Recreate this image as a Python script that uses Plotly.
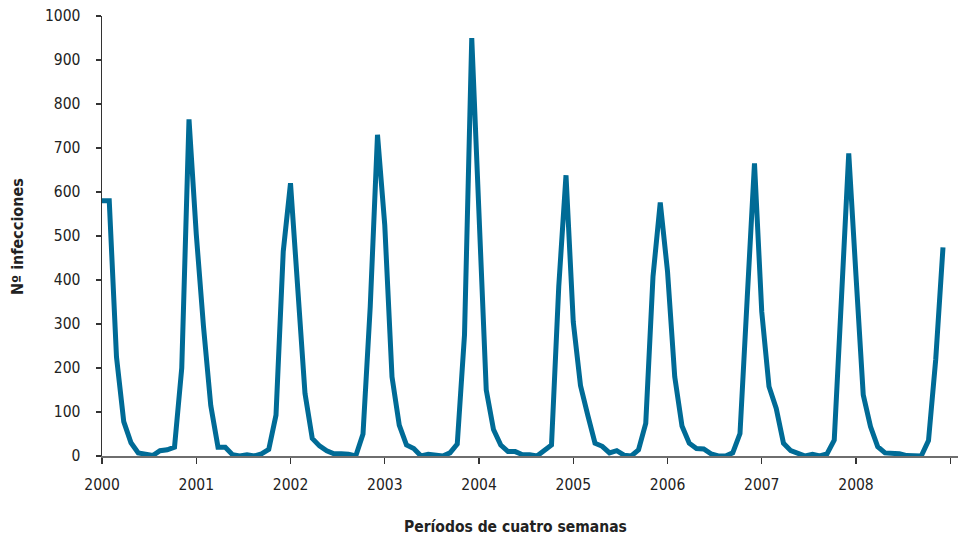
import plotly.graph_objects as go

# Four-week periods: 13 per year, 2000-2008
year_labels = ["2000", "2001", "2002", "2003", "2004", "2005", "2006", "2007", "2008"]
periods_per_year = 13

infecciones = [
    # 2000
    580, 580, 225, 78, 30, 7, 4, 1, 12, 14, 20, 200, 765,
    # 2001
    505, 294, 115, 20, 20, 3, 0, 3, 0, 5, 15, 93, 465,
    # 2002
    620, 375, 142, 40, 23, 12, 5, 5, 4, 0, 50, 340, 730,
    # 2003
    525, 180, 70, 25, 17, 0, 4, 2, 0, 7, 27, 275, 950,
    # 2004
    550, 150, 60, 25, 10, 10, 3, 3, 0, 12, 25, 385, 638,
    # 2005
    305, 160, 93, 29, 22, 7, 12, 2, 0, 14, 74, 408, 576,
    # 2006
    420, 180, 68, 29, 17, 16, 5, 0, 0, 7, 51, 360, 665,
    # 2007
    328, 158, 108, 29, 12, 5, 0, 4, 0, 5, 36, 360, 688,
    # 2008
    410, 139, 67, 21, 7, 6, 5, 1, 1, 0, 35, 220, 474,
]

y_ticks = [0, 100, 200, 300, 400, 500, 600, 700, 800, 900, 1000]

x_idx = list(range(len(infecciones)))
tick_vals = [i * periods_per_year for i in range(len(year_labels) + 1)]
tick_text = year_labels + [""]

FONT = "DejaVu Sans Condensed, Liberation Sans Narrow, sans-serif"
LINE_COLOR = "#006b96"

fig = go.Figure()
fig.add_trace(go.Scatter(
    x=x_idx, y=infecciones, mode="lines",
    line=dict(color=LINE_COLOR, width=5),
    hoverinfo="skip", showlegend=False,
))

fig.update_layout(
    width=958, height=543,
    margin=dict(l=102, r=0, t=16, b=87),
    paper_bgcolor="white", plot_bgcolor="white",
    font=dict(family=FONT, size=15.5, color="#222222"),
    showlegend=False,
)

fig.update_xaxes(
    range=[0, 118.07],
    tickmode="array", tickvals=tick_vals, ticktext=tick_text,
    showgrid=False, zeroline=False,
    showline=True, linecolor="#6e6e6e", linewidth=2,
    ticks="outside", ticklen=6, tickwidth=1.2, tickcolor="#333333",
    ticklabelstandoff=7,
    tickfont=dict(family=FONT, size=15.5, color="#222222"),
    fixedrange=True,
)
fig.update_yaxes(
    range=[0, 1000],
    tickmode="array", tickvals=y_ticks,
    showgrid=False, zeroline=False,
    showline=True, linecolor="#333333", linewidth=1.5,
    ticks="outside", ticklen=5, tickwidth=1.2, tickcolor="#333333",
    ticklabelstandoff=12,
    tickfont=dict(family=FONT, size=15.5, color="#222222"),
    fixedrange=True,
)

fig.add_annotation(
    text="<b>Períodos de cuatro semanas</b>",
    xref="paper", yref="paper", x=(515 - 102) / 856, y=-(527 - 456) / 440,
    xanchor="center", yanchor="middle", showarrow=False,
    font=dict(family=FONT, size=15.5, color="#222222"),
)
fig.add_annotation(
    text="<b>Nº infecciones</b>",
    xref="paper", yref="paper", x=-(102 - 18) / 856, y=(456 - 237) / 440,
    xanchor="center", yanchor="middle", showarrow=False, textangle=-90,
    font=dict(family=FONT, size=16, color="#222222"),
)

fig.write_html(
    "out.html",
    config={"displayModeBar": False, "staticPlot": True},
    post_script="document.body.style.margin='0';document.body.style.padding='0';",
)
